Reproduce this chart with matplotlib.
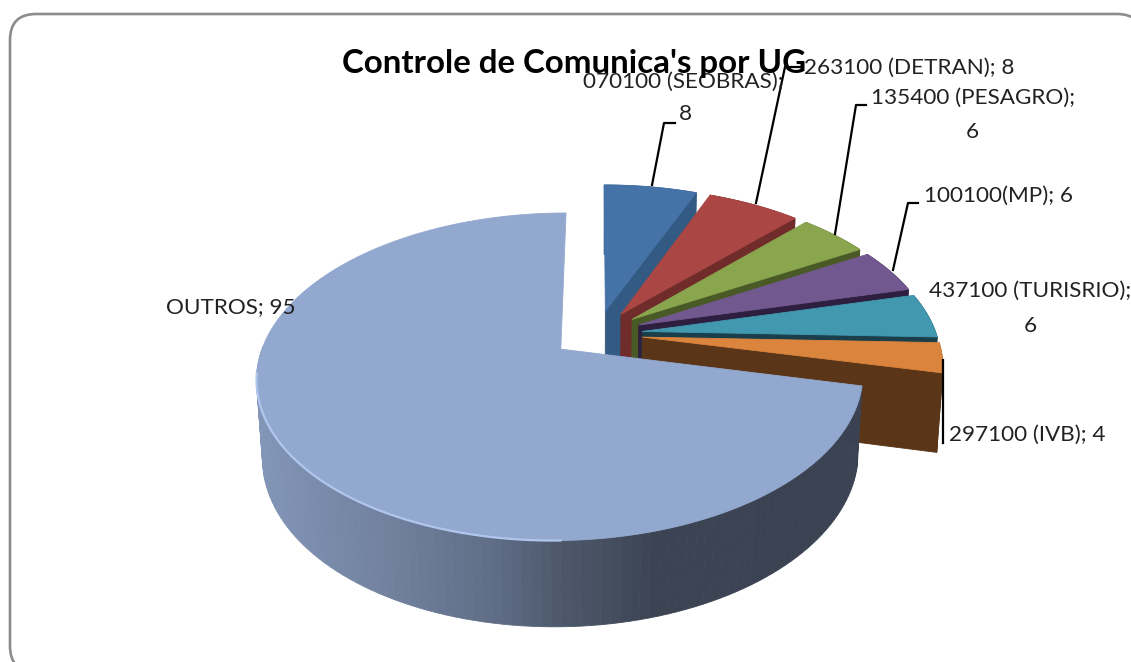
import numpy as np
import matplotlib
matplotlib.use("Agg")
import matplotlib.pyplot as plt
from matplotlib.patches import FancyBboxPatch, Polygon
from matplotlib.colors import to_rgb

# chart data
ug_names = ["070100 (SEOBRAS)", "263100 (DETRAN)", "135400 (PESAGRO)", "100100(MP)",
            "437100 (TURISRIO)", "297100 (IVB)", "OUTROS"]
ug_values = [8, 8, 6, 6, 6, 4, 95]
top_colors = ["#4572a7", "#aa4643", "#89a54e", "#71588f", "#4198af", "#db843d", "#92a8cf"]
wall_colors = ["#325a83", "#702c2b", "#4a5a26", "#2e1f40", "#1a3f4a", "#5a3517", "#5a6a88"]

# shading of the big outer wall, left to right
shade_x = [256, 400, 500, 560, 660, 860]
shade_colors = ["#8296b8", "#707f9c", "#5f6c86", "#4e5a6c", "#3c4454", "#3b4252"]

# camera for the fake 3d pie, all in pixels of the final picture
cx, cy = 597, 334
radius = 294
explode = 0.155
tilt = np.radians(31.6)
dist = 5.13
height = 0.32
focal = radius * dist


def project(X, Y, Z):
    yc = Y * np.sin(tilt) + Z * np.cos(tilt)
    zc = dist + Y * np.cos(tilt) - Z * np.sin(tilt)
    # excel keeps the walls nearly upright, so undo most of the x shrink
    return cx + focal * X / zc * (1 - 0.05 * Z), cy - focal * yc / zc


def wall_shade(x):
    rgb = np.array([to_rgb(c) for c in shade_colors])
    return tuple(np.interp(x, shade_x, rgb[:, k]) for k in range(3))


def poly(ax, xs, ys, color, z):
    ax.add_patch(Polygon(np.column_stack([xs, ys]), closed=True, fc=color, ec=color, lw=0.6, zorder=z))


fig = plt.figure(figsize=(11.31, 6.62), dpi=100, facecolor="white")
ax = fig.add_axes([0, 0, 1, 1])
ax.set_xlim(0, 1131)
ax.set_ylim(662, 0)
ax.axis("off")

ax.add_patch(FancyBboxPatch((35, 39), 1083, 608, boxstyle="round,pad=25,rounding_size=26",
                            fc="white", ec="#8c8c8c", lw=1.9, zorder=0))

total = sum(ug_values)
ends = np.cumsum(ug_values) / total * 2 * np.pi
starts = ends - np.array(ug_values) / total * 2 * np.pi

z = 2
for i in range(len(ug_values)):
    t = np.linspace(starts[i], ends[i], 160)
    mid = (starts[i] + ends[i]) / 2
    ox, oy = explode * np.sin(mid), explode * np.cos(mid)
    X = ox + np.sin(t)
    Y = oy + np.cos(t)
    top_x, top_y = project(X, Y, 0 * X)
    low_x, low_y = project(X, Y, -height + 0 * X)
    ax_x, ax_y = project(ox, oy, 0)
    bx_x, bx_y = project(ox, oy, -height)

    if ug_names[i] == "OUTROS":
        for j in range(len(t) - 1):
            # back half of the wall is hidden
            if top_y[j] < ax_y:
                continue
            poly(ax, [top_x[j], top_x[j + 1], low_x[j + 1], low_x[j]],
                 [top_y[j], top_y[j + 1], low_y[j + 1], low_y[j]], wall_shade(top_x[j]), z)
    else:
        poly(ax, np.r_[top_x, low_x[::-1]], np.r_[top_y, low_y[::-1]], wall_colors[i], z)
        # the radial wall at the clockwise end, seen from the front
        poly(ax, [ax_x, top_x[-1], low_x[-1], bx_x], [ax_y, top_y[-1], low_y[-1], bx_y], wall_colors[i], z)
    z += 1
    poly(ax, np.r_[ax_x, top_x], np.r_[ax_y, top_y], top_colors[i], z)
    if ug_names[i] == "OUTROS":
        # light rim, left front only
        rim = (top_y > ax_y + 20) & (top_x < 570)
        ax.plot(top_x[rim], top_y[rim], color="#b0c6ec", lw=1.6, zorder=z + 1)
    z += 1

# leader lines
leaders = [([652, 664, 675], [185, 123, 123]),
           ([756, 785, 800], [203, 67, 67]),
           ([835, 856, 866], [234, 105, 105]),
           ([893, 908, 918], [270, 203, 203]),
           ([943, 943], [360, 443])]
for lx, ly in leaders:
    ax.plot(lx, ly, color="black", lw=1.6, zorder=30)

label_font = "Lato"
label_size = 16.2
labels = [
    (683, 82, f"{ug_names[0]};"), (685, 114, f"{ug_values[0]}"),
    (909, 68, f"{ug_names[1]}; {ug_values[1]}"),
    (973, 98, f"{ug_names[2]};"), (972, 132, f"{ug_values[2]}"),
    (998, 196, f"{ug_names[3]}; {ug_values[3]}"),
    (1030, 291, f"{ug_names[4]};"), (1030, 326, f"{ug_values[4]}"),
    (1027, 435, f"{ug_names[5]}; {ug_values[5]}"),
    (231, 307, f"{ug_names[6]}; {ug_values[6]}"),
]
for lx, ly, s in labels:
    ax.text(lx, ly, s, fontsize=label_size, family=label_font, ha="center", va="center",
            color="#222222", zorder=31)

ax.text(574, 63, "Controle de Comunica's por UG", fontsize=23.8, fontweight="bold", family=label_font,
        ha="center", va="center", color="black", zorder=32)

fig.savefig("out.png", dpi=100)
